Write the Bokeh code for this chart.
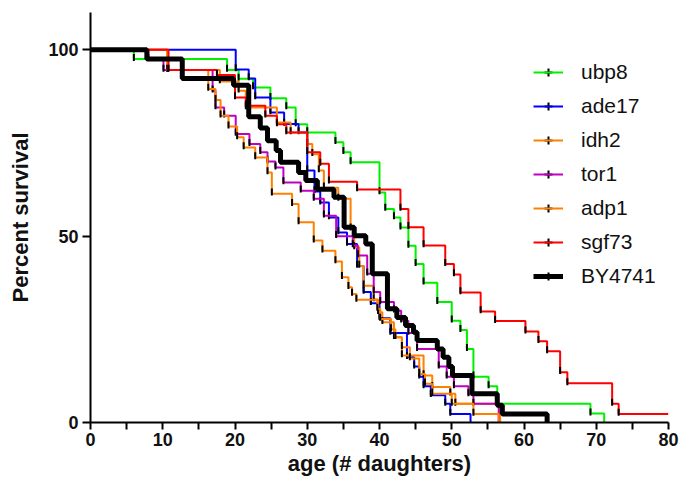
import math
import numpy as np
from bokeh.plotting import figure
from bokeh.models import FixedTicker, Legend, LegendItem, Range1d
from bokeh.embed import file_html
from bokeh.resources import INLINE

# ---- data: Kaplan-Meier steps (time of drop, survival after drop) ----
series_names = ["ubp8", "ade17", "idh2", "tor1", "adp1", "sgf73", "BY4741"]
series_colors = ["#00F000", "#0000FF", "#FF8000", "#C000C0", "#FF8000", "#FF0000", "#000000"]

ubp8_t = [0, 6, 18.9, 20.5, 22.5, 24.9, 27.1, 28.4, 30, 33.9, 35, 36, 40, 40.8, 42, 42.9, 44, 45, 46.1, 48, 50, 51.2, 52.1, 53, 55.1, 56.3, 69.2, 71.1]
ubp8_s = [100, 97.5, 94.6, 92.2, 89.9, 87.0, 84.5, 80.0, 77.8, 75.2, 72.5, 69.8, 61.7, 57.3, 55.0, 52.3, 47.4, 42.5, 37.5, 32.3, 27.3, 24.8, 19.7, 12.3, 9.7, 5.0, 2.4, 0]

ade17_t = [0, 20.1, 21.9, 22.8, 24.9, 26.8, 28.8, 30, 31, 31.8, 33, 34.3, 35.5, 36.9, 37.8, 38.8, 40, 41.5, 43.8, 44.8, 45.5, 46.1, 47.1, 49.1, 49.8, 52.6]
ade17_s = [100, 94.7, 92.3, 87.2, 83.2, 80.1, 77.8, 67.6, 62.0, 59.0, 55.0, 51.0, 47.9, 42.0, 35.0, 32.0, 28.0, 24.0, 17.5, 15.0, 12.3, 9.7, 7.3, 5.0, 2.3, 0]

idh2_t = [0, 10.6, 17.9, 20.5, 21.5, 25.8, 27.7, 30, 30.7, 31.6, 32.3, 34.3, 36, 36.5, 37.2, 37.8, 39.2, 39.8, 40.4, 42, 43.1, 46.1, 47.3, 49.8, 50.5, 56.7]
idh2_s = [100, 94.6, 91.5, 89.0, 84.5, 80.5, 77.8, 74.7, 72.0, 67.6, 63.0, 60.0, 52.0, 47.0, 42.0, 36.7, 33.0, 29.6, 26.9, 22.9, 18.0, 12.6, 9.5, 7.7, 5.0, 0]

tor1_t = [0, 8, 10.1, 16.9, 17.3, 18.5, 20.1, 22, 23.5, 24.5, 25.6, 26.7, 29.1, 30.9, 32.3, 34, 36.3, 37, 38.3, 39.2, 40.1, 42, 43, 44, 45.2, 48.2, 49.3, 50.3, 52.3, 53, 56.5]
tor1_s = [100, 97.5, 94.6, 89.0, 84.5, 82.3, 77.4, 74.7, 72.5, 70.0, 68.4, 64.4, 62.2, 60.0, 55.5, 50.0, 47.5, 44.8, 39.9, 35.0, 32.3, 30.0, 27.3, 24.0, 19.7, 15.0, 12.3, 9.7, 7.5, 5.0, 0]

adp1_t = [0, 10.7, 16.3, 17.3, 18, 19.1, 20.3, 21.2, 22.8, 24.5, 25.1, 27.9, 28.8, 30.9, 32.1, 33.9, 34.8, 35.7, 36.2, 36.8, 39.7, 40.1, 41.6, 42.2, 43.1, 44.2, 45.5, 46.3, 47.3, 50, 53, 56.5]
adp1_s = [100, 94.6, 89.5, 86.5, 82.3, 79.4, 76.5, 73.8, 71.1, 67.1, 61.4, 58.6, 53.7, 48.8, 46.1, 43.2, 39.0, 36.3, 34.5, 32.9, 30.5, 27.8, 25.0, 22.9, 20.2, 17.2, 13.0, 10.4, 7.7, 5.0, 2.3, 0]

sgf73_t = [0, 10.8, 17.5, 20, 21.5, 24.2, 25.8, 27.1, 30, 31.8, 33, 36.9, 42.9, 44, 46.1, 49.1, 50.3, 51.2, 54, 56, 60.2, 62, 63.2, 65, 66, 72.2, 73.1, 80]
sgf73_s = [100, 94.6, 93.2, 87.2, 85.0, 82.3, 80.0, 77.8, 72.5, 69.4, 64.6, 62.5, 57.3, 52.4, 47.5, 42.5, 39.7, 34.9, 29.8, 27.2, 24.4, 21.8, 19.1, 13.5, 10.5, 5.0, 2.3, 2.3]

by4741_t = [0, 7.8, 12.7, 19.8, 21.9, 23.5, 24.5, 25.7, 26.3, 28.8, 29.8, 31.4, 33.7, 35.1, 36.5, 38.1, 39, 41.1, 42.4, 43.6, 44.7, 45.2, 48, 48.8, 49.6, 50.1, 52.8, 56.3, 57, 63.2]
by4741_s = [100, 97.5, 92.3, 90.5, 82.0, 79.0, 75.6, 73.0, 69.8, 67.1, 64.9, 62.6, 60.4, 52.4, 50.1, 47.9, 39.9, 30.5, 28.2, 26.0, 24.2, 22.0, 19.7, 17.5, 15.0, 12.6, 7.7, 4.6, 2.3, 0]

series_t = [ubp8_t, ade17_t, idh2_t, tor1_t, adp1_t, sgf73_t, by4741_t]
series_s = [ubp8_s, ade17_s, idh2_s, tor1_s, adp1_s, sgf73_s, by4741_s]

x_ticks = [0, 10, 20, 30, 40, 50, 60, 70, 80]
x_minor = [5, 15, 25, 35, 45, 55, 65, 75]
y_ticks = [0, 50, 100]

FONT = "Liberation Sans"

p = figure(width=681, height=491, x_range=Range1d(0, 80), y_range=Range1d(0, 110),
           output_backend="svg", toolbar_location=None,
           min_border_left=90, min_border_right=13, min_border_top=12, min_border_bottom=69)
p.outline_line_color = None
p.xgrid.visible = False
p.ygrid.visible = False
p.background_fill_color = "white"

items = []
for name, col, T, S in zip(series_names, series_colors, series_t, series_s):
    lw = 5 if name == "BY4741" else 2
    r_line = p.step(x=T, y=S, mode="after", line_color=col, line_width=lw)
    tx, ty = [], []
    for i in range(1, len(T)):
        if S[i] < S[i - 1] and S[i] > 0:
            tx.append(T[i])
            ty.append(S[i] + 0.45)
    p.scatter(x=tx, y=ty, marker="dash", angle=math.pi / 2, size=7,
              line_color="black", line_width=2)
    # legend-only tick glyph: a NaN point is never drawn in the plot,
    # but the legend draws its cross (horizontal arm hidden under the line)
    r_leg = p.scatter(x=np.array([np.nan]), y=np.array([np.nan]), marker="cross",
                      size=8, line_color="black", line_width=2)
    items.append(LegendItem(label=name, renderers=[r_leg, r_line]))

legend = Legend(items=items, location=(443, 134), glyph_width=30, glyph_height=20,
                label_height=24, spacing=10, padding=0, margin=0, label_standoff=18,
                label_text_font=FONT, label_text_font_size="21px",
                label_text_color="#111111",
                border_line_alpha=0, background_fill_alpha=0)
p.add_layout(legend)

# axes
for ax in (p.xaxis[0], p.yaxis[0]):
    ax.axis_line_width = 2
    ax.axis_line_color = "black"
    ax.major_tick_line_width = 2
    ax.major_tick_line_color = "black"
    ax.major_tick_in = 0
    ax.major_label_text_font = FONT
    ax.major_label_text_font_style = "bold"
    ax.major_label_text_font_size = "18px"
    ax.major_label_text_color = "#111111"
    ax.axis_label_text_font = FONT
    ax.axis_label_text_font_style = "bold"
    ax.axis_label_text_font_size = "22px"
    ax.axis_label_text_color = "#111111"

p.xaxis.ticker = FixedTicker(ticks=x_ticks, minor_ticks=x_minor)
p.xaxis.major_tick_out = 7
p.xaxis.minor_tick_out = 7
p.xaxis.minor_tick_in = 0
p.xaxis.minor_tick_line_width = 2
p.xaxis.minor_tick_line_color = "black"
p.xaxis.major_label_standoff = 3
p.xaxis.axis_label = "age (# daughters)"
p.xaxis.axis_label_standoff = 2

p.yaxis.ticker = FixedTicker(ticks=y_ticks, minor_ticks=[])
p.yaxis.major_tick_out = 8
p.yaxis.minor_tick_line_color = None
p.yaxis.major_label_standoff = 4
p.yaxis.axis_label = "Percent survival"
p.yaxis.axis_label_standoff = 12

open("out.html", "w").write(file_html(p, INLINE))
